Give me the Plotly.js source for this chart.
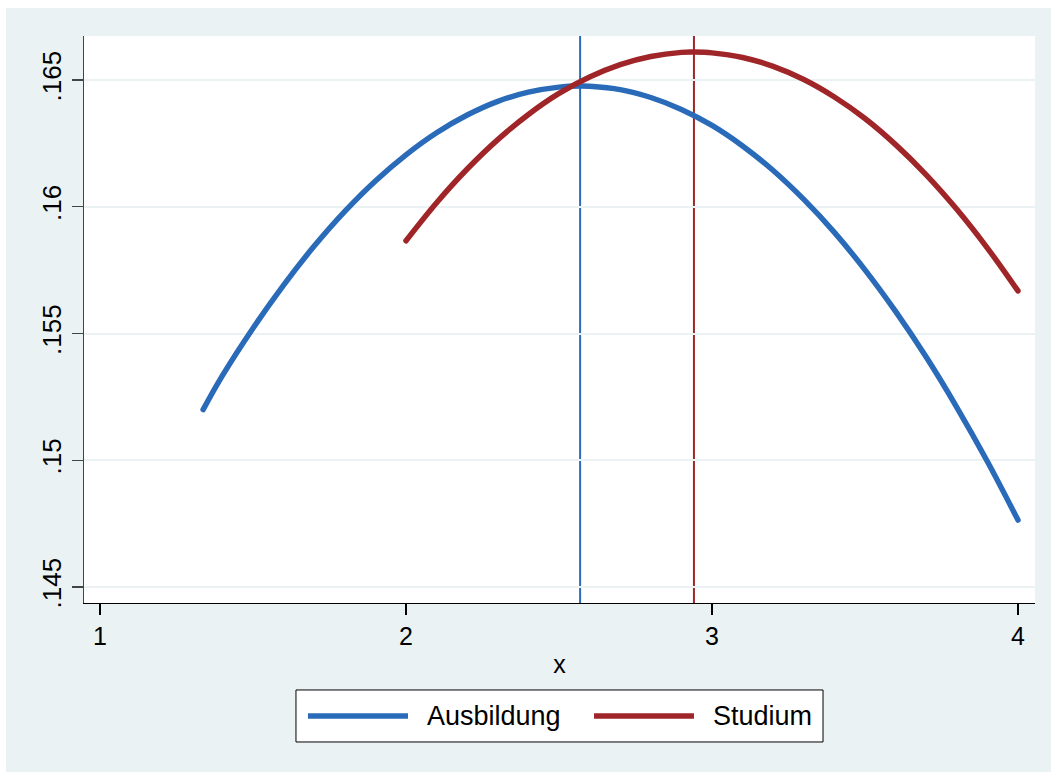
<!DOCTYPE html>
<html>
<head>
<meta charset="utf-8">
<script src="https://cdn.plot.ly/plotly-3.0.1.min.js"></script>
<style>
  html, body { margin: 0; padding: 0; background: #ffffff; }
  #chart { position: absolute; left: 6px; top: 8px; width: 1045px; height: 764px; }
  #chart .scatterlayer path.js-line { stroke-linecap: round; stroke-linejoin: round; }
</style>
</head>
<body>
<div id="chart"></div>
<script>
// ---- data ----
const seriesNames = ["Ausbildung", "Studium"];

const ausbildungX = [1.337, 1.4, 1.5, 1.6, 1.7, 1.8, 1.9, 2.0, 2.1, 2.2, 2.3, 2.4, 2.5, 2.569, 2.6, 2.7, 2.8, 2.9, 3.0, 3.1, 3.2, 3.3, 3.4, 3.5, 3.6, 3.7, 3.8, 3.9, 4.0];
const ausbildungY = [0.1520, 0.15334, 0.15521, 0.15691, 0.15845, 0.15982, 0.16102, 0.16205, 0.16292, 0.16362, 0.16416, 0.16452, 0.16472, 0.16476, 0.16475, 0.16462, 0.16431, 0.16384, 0.16321, 0.16240, 0.16143, 0.16029, 0.15899, 0.15751, 0.15587, 0.15407, 0.15209, 0.14995, 0.14764];

const studiumX = [2.0, 2.1, 2.2, 2.3, 2.4, 2.5, 2.6, 2.7, 2.8, 2.9, 2.941, 3.0, 3.1, 3.2, 3.3, 3.4, 3.5, 3.6, 3.7, 3.8, 3.9, 4.0];
const studiumY = [0.15866, 0.16016, 0.16149, 0.16265, 0.16364, 0.16447, 0.16512, 0.16561, 0.16593, 0.16609, 0.16610, 0.16607, 0.16589, 0.16554, 0.16502, 0.16433, 0.16348, 0.16245, 0.16126, 0.15990, 0.15837, 0.15668];

// x positions of the maxima (vertical reference lines)
const peakX = [2.569, 2.941];

const xTickVals = [1, 2, 3, 4];
const xTickText = ["1", "2", "3", "4"];
const yTickVals = [0.145, 0.15, 0.155, 0.16, 0.165];
const yTickText = [".145", ".15", ".155", ".16", ".165"];

// ---- styling ----
const colors = ["#2a6bb9", "#9f2528"];
const bg = "#eaf2f3";
const fontFam = "Liberation Sans, Arial, Helvetica, sans-serif";

const traces = [
  { x: ausbildungX, y: ausbildungY, name: seriesNames[0], mode: "lines",
    line: { color: colors[0], width: 5.5, shape: "spline" }, showlegend: false },
  { x: studiumX, y: studiumY, name: seriesNames[1], mode: "lines",
    line: { color: colors[1], width: 5.5, shape: "spline" }, showlegend: false }
];

const shapes = [];
peakX.forEach((px, i) => {
  shapes.push({ type: "line", xref: "x", yref: "paper", x0: px, x1: px, y0: 0, y1: 1,
    line: { color: colors[i], width: 2 }, layer: "below" });
});

// manual legend (paper coordinates)
shapes.push({ type: "rect", xref: "paper", yref: "paper", x0: 0.2229, x1: 0.7771, y0: -0.2451, y1: -0.1534,
  line: { color: "#000000", width: 1 }, fillcolor: "#ffffff" });
const legSample = [[0.2355, 0.3407], [0.5363, 0.6414]];
const legText = [0.3586, 0.6593];
const annotations = [];
legSample.forEach((s, i) => {
  shapes.push({ type: "line", xref: "paper", yref: "paper", x0: s[0], x1: s[1], y0: -0.1993, y1: -0.1993,
    line: { color: colors[i], width: 5.5 } });
  annotations.push({ xref: "paper", yref: "paper", x: legText[i], y: -0.1993, xanchor: "left", yanchor: "middle",
    text: seriesNames[i], showarrow: false, font: { family: fontFam, size: 27, color: "#000000" } });
});

const layout = {
  width: 1045, height: 764,
  paper_bgcolor: bg, plot_bgcolor: "#ffffff",
  margin: { l: 78, r: 16, t: 28, b: 169 },
  font: { family: fontFam, size: 25, color: "#000000" },
  showlegend: false,
  xaxis: {
    range: [0.9477, 4.0556], tickmode: "array", tickvals: xTickVals, ticktext: xTickText,
    showgrid: false, zeroline: false, showline: true, linecolor: "#000000", linewidth: 1.3,
    ticks: "outside", ticklen: 11, tickwidth: 1.3, tickcolor: "#000000",
    tickfont: { family: fontFam, size: 25, color: "#000000" },
    title: { text: "x", font: { family: fontFam, size: 25, color: "#000000" }, standoff: 6 }
  },
  yaxis: {
    range: [0.144369, 0.166736], tickmode: "array", tickvals: yTickVals, ticktext: yTickText,
    tickangle: -90,
    showgrid: true, gridcolor: bg, gridwidth: 2, zeroline: false,
    showline: true, linecolor: "#444444", linewidth: 1.5,
    ticks: "outside", ticklen: 11, tickwidth: 1.3, tickcolor: "#444444",
    tickfont: { family: fontFam, size: 26, color: "#000000" }
  },
  shapes: shapes,
  annotations: annotations
};

Plotly.newPlot("chart", traces, layout, { displayModeBar: false, staticPlot: true });
</script>
</body>
</html>
